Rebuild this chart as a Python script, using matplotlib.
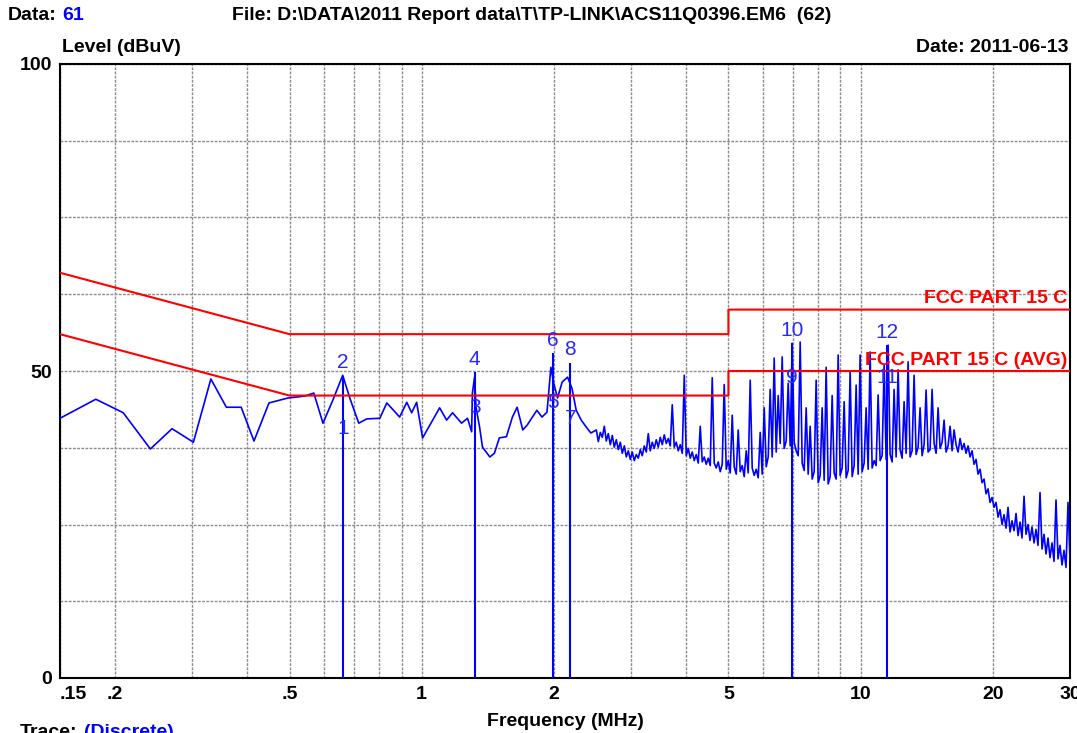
import numpy as np
import matplotlib
matplotlib.use("Agg")
from matplotlib import pyplot as plt

plt.rcParams['font.family'] = ['Liberation Sans', 'DejaVu Sans']

# ---- DATA ----

# FCC part 15 C conducted limits (MHz, dBuV)
lim_freq = [0.15, 0.5, 0.5, 5, 5, 30]
lim_qp = [66, 56, 56, 56, 60, 60]
lim_avg = [56, 46, 46, 46, 50, 50]

# trace below 2.5 MHz, read point by point
f_lo = [0.15, 0.181, 0.209, 0.241, 0.270, 0.302, 0.331, 0.359, 0.388, 0.415,
        0.449, 0.496, 0.540, 0.568, 0.596, 0.628, 0.661, 0.686, 0.719, 0.750,
        0.803, 0.833, 0.891, 0.925, 0.949, 0.974, 1.005, 1.099, 1.14, 1.176,
        1.233, 1.272, 1.30, 1.305, 1.32, 1.33, 1.355, 1.376, 1.43, 1.465,
        1.503, 1.56, 1.61, 1.65, 1.70, 1.74, 1.83, 1.88, 1.93, 1.97,
        2.0, 2.04, 2.09, 2.15, 2.20, 2.25, 2.31, 2.37, 2.43]
lvl_lo = [42.3, 45.4, 43.2, 37.3, 40.6, 38.4, 48.7, 44.1, 44.1, 38.6,
          44.8, 45.6, 45.9, 46.4, 41.5, 45.3, 49.3, 45.6, 41.5, 42.2,
          42.3, 44.8, 42.5, 44.9, 43.2, 44.9, 39.1, 44.0, 42.0, 43.2,
          41.5, 42.3, 40.1, 46.4, 49.0, 44.1, 40.9, 37.6, 36.0, 36.6,
          39.1, 39.3, 42.5, 44.1, 40.4, 41.2, 43.6, 42.5, 43.3, 50.6,
          48.0, 45.6, 48.2, 49.0, 47.2, 43.6, 42.0, 40.9, 39.9]

# trace 2.5 - 30 MHz, read on the sweep grid (one value per ~2 px)
lvl_hi = [40.4, 38.5, 40.0, 39.2, 41.0, 38.6, 39.8, 38.0, 39.5, 37.6,
          38.8, 37.2, 38.4, 36.6, 37.8, 36.0, 37.0, 35.6, 36.8, 35.4,
          36.4, 35.8, 37.2, 36.2, 37.8, 36.8, 39.8, 37.0, 38.4, 37.4,
          38.8, 37.6, 39.2, 38.0, 39.6, 38.2, 39.0, 37.8, 44.5, 37.6,
          38.4, 37.0, 38.0, 36.6, 49.3, 36.2, 37.4, 35.8, 36.8, 35.4,
          36.4, 35.0, 41.0, 35.2, 36.0, 34.8, 35.8, 34.6, 48.9, 35.0,
          34.2, 35.2, 33.6, 34.8, 47.8, 34.0, 35.4, 33.4, 42.8, 34.4,
          33.2, 40.4, 33.6, 34.6, 32.8, 37.0, 33.4, 48.5, 34.2, 33.0,
          34.0, 32.6, 40.0, 33.2, 44.0, 34.4, 36.0, 47.0, 36.0, 52.1,
          36.8, 46.0, 38.2, 52.3, 37.4, 38.6, 48.0, 37.8, 54.5, 38.4,
          37.0, 36.2, 54.7, 35.0, 33.8, 44.0, 33.2, 41.0, 32.4, 33.6,
          48.5, 31.8, 33.0, 44.0, 32.2, 50.6, 31.6, 32.8, 46.0, 33.4,
          32.4, 52.6, 33.0, 34.2, 45.0, 32.6, 33.8, 50.0, 32.8, 34.6,
          47.7, 33.2, 52.6, 33.6, 35.0, 44.0, 34.0, 53.1, 34.2, 35.4,
          34.6, 46.1, 35.4, 36.2, 51.0, 35.6, 54.2, 36.4, 35.2, 47.0,
          36.0, 50.2, 37.2, 35.8, 45.0, 36.6, 51.5, 36.0, 37.0, 49.3,
          36.4, 37.6, 44.0, 36.2, 38.0, 46.9, 36.8, 37.2, 47.0, 38.2,
          36.6, 44.0, 37.4, 38.4, 42.0, 36.8, 37.8, 41.0, 37.0, 40.4,
          38.0, 36.8, 39.0, 37.2, 38.2, 36.6, 37.8, 36.0, 37.0, 34.8,
          35.6, 33.2, 34.0, 31.8, 32.4, 30.0, 30.8, 28.6, 29.4, 27.8,
          28.6, 26.2, 27.4, 25.0, 26.6, 24.4, 27.8, 23.8, 25.6, 24.0,
          26.8, 23.2, 25.4, 22.8, 29.6, 23.4, 25.0, 22.4, 24.6, 22.0,
          24.2, 21.6, 30.2, 21.0, 23.4, 20.2, 22.8, 19.6, 22.0, 19.0,
          29.0, 19.4, 21.6, 18.4, 20.8, 18.0, 28.6, 19.2]

# discrete markers: frequency, QP reading (even numbers), AVG reading (odd numbers)
mk_freq = [0.661, 1.32, 1.99, 2.18, 6.98, 11.5]
mk_qp = [49.2, 49.8, 52.9, 51.3, 54.5, 54.2]
mk_avg = [40.7, 44.0, 44.8, 42.3, 48.9, 49.0]

x_ticks = [0.15, 0.2, 0.5, 1, 2, 5, 10, 20, 30]
x_labels = ['.15', '.2', '.5', '1', '2', '5', '10', '20', '30']
x_grid = [0.2, 0.3, 0.4, 0.5, 0.6, 0.7, 0.8, 0.9, 1, 2, 3, 4, 5, 6, 7, 8, 9, 10, 20]

# ---- PLOT ----

fig = plt.figure(figsize=(10.77, 7.33), dpi=100)
ax = fig.add_axes([60 / 1077, 55 / 733, 1010 / 1077, 614 / 733])

f_hi = np.geomspace(2.5, 30, len(lvl_hi))  # sweep grid
freq = np.concatenate([f_lo, f_hi])
level = np.concatenate([lvl_lo, lvl_hi])

ax.plot(freq, level, color='#0000ff', lw=1.2, zorder=3)

ax.plot(lim_freq, lim_qp, color='#ff0000', lw=1.5, zorder=4)
ax.plot(lim_freq, lim_avg, color='#ff0000', lw=1.5, zorder=4)
ax.text(29.6, 60.4, 'FCC PART 15 C', color='#ff0000', fontweight='bold',
        fontsize=14, ha='right', va='bottom', zorder=5)
ax.text(29.6, 50.4, 'FCC PART 15 C (AVG)', color='#ff0000', fontweight='bold',
        fontsize=14, ha='right', va='bottom', zorder=5)

# marker lines and numbers
ax.vlines(mk_freq, 0, mk_qp, color='#0000ff', lw=1.5, zorder=3)
for i, (f, qp, av) in enumerate(zip(mk_freq, mk_qp, mk_avg)):
    ax.text(f, qp + 0.6, str(2 * i + 2), color='#2828ff', fontsize=15,
            ha='center', va='bottom', zorder=5)
    ax.text(f, av, str(2 * i + 1), color='#2828ff', fontsize=15,
            ha='center', va='center', zorder=5)

ax.set_xscale('log')
ax.set_xlim(0.15, 30)
ax.set_ylim(0, 100)

ax.set_xticks(x_ticks)
ax.set_xticklabels(x_labels, fontweight='bold', fontsize=14)
ax.set_xticks(x_grid, minor=True)
ax.xaxis.set_minor_formatter(plt.NullFormatter())
ax.get_xticklabels()[0].set_ha('left')

ax.set_yticks([0, 50, 100])
ax.set_yticklabels(['0', '50', '100'], fontweight='bold', fontsize=14)
ax.set_yticks(np.arange(12.5, 100, 12.5), minor=True)

ax.tick_params(which='both', length=0)
ax.tick_params(axis='x', pad=6)
ax.tick_params(axis='y', pad=6)
ax.grid(which='both', color='#8c8c8c', lw=1, ls=(0, (2, 1)))
ax.set_axisbelow(True)
for sp in ax.spines.values():
    sp.set_linewidth(1.5)
    sp.set_color('black')

ax.set_xlabel('Frequency (MHz)', fontweight='bold', fontsize=14, labelpad=7)

# header and footer text
t = fig.text(8 / 1077, 1 - 15 / 733, 'Data:', fontweight='bold', fontsize=14, va='center')
ax.annotate('61', xy=(1, 0.5), xycoords=t, xytext=(4, 0), textcoords='offset points',
            color='#0000ff', fontweight='bold', fontsize=14, va='center', annotation_clip=False)
fig.text(232 / 1077, 1 - 15 / 733,
         'File: D:\\DATA\\2011 Report data\\T\\TP-LINK\\ACS11Q0396.EM6  (62)',
         fontweight='bold', fontsize=14, va='center')
fig.text(62 / 1077, 1 - 47 / 733, 'Level (dBuV)', fontweight='bold', fontsize=14, va='center')
fig.text(1068 / 1077, 1 - 47 / 733, 'Date: 2011-06-13', fontweight='bold', fontsize=14,
         va='center', ha='right')
t2 = fig.text(20 / 1077, 0.012, 'Trace:', fontweight='bold', fontsize=14, va='top')
ax.annotate('(Discrete)', xy=(1, 1), xycoords=t2, xytext=(5, 0), textcoords='offset points',
            color='#0000ff', fontweight='bold', fontsize=14, va='top', annotation_clip=False)

fig.savefig('out.png', dpi=100)
